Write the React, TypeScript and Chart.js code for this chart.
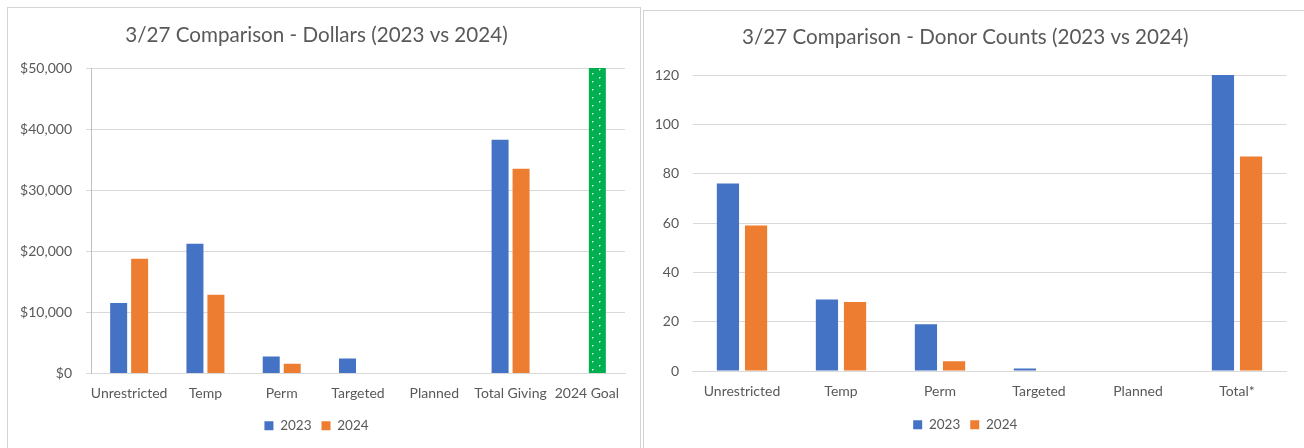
import React, { useEffect, useRef } from "react";
import { Chart, registerables } from "chart.js";

Chart.register(...registerables);

// ---- data ----
const dollarCategories = ["Unrestricted", "Temp", "Perm", "Targeted", "Planned", "Total Giving", "2024 Goal"];
const dollars2023 = [11550, 21250, 2800, 2450, 0, 38250, 0];
const dollars2024 = [18800, 12900, 1600, 0, 0, 33500, 50000];
const dollarAxisMax = 50000;
const dollarAxisStep = 10000;

const donorCategories = ["Unrestricted", "Temp", "Perm", "Targeted", "Planned", "Total*"];
const donors2023 = [76, 29, 19, 1, 0, 120];
const donors2024 = [59, 28, 4, 0, 0, 87];
const donorAxisMax = 120;
const donorAxisStep = 20;

const seriesLabels = ["2023", "2024"];

// ---- styling ----
const BLUE = "#4472C4";
const ORANGE = "#ED7D31";
const GREEN = "#00B050";
const GRID = "#d9d9d9";
const TEXT = "#595959";
const FONT = "Lato, 'Noto Sans', sans-serif";

// dotted fill used for the goal bar
function goalPattern(): CanvasPattern | string {
  const c = document.createElement("canvas");
  c.width = 14;
  c.height = 8;
  const g = c.getContext("2d");
  if (!g) return GREEN;
  g.fillStyle = GREEN;
  g.fillRect(0, 0, 14, 8);
  g.fillStyle = "#ffffff";
  g.fillRect(10, 1, 1, 1);
  g.fillRect(3, 5, 1, 1);
  g.fillStyle = "rgba(255,255,255,0.5)";
  g.fillRect(11, 1, 1, 1);
  g.fillRect(4, 5, 1, 1);
  g.fillRect(10, 2, 1, 1);
  g.fillRect(3, 6, 1, 1);
  return g.createPattern(c, "repeat") || GREEN;
}

type PanelProps = {
  title: string;
  categories: string[];
  a: number[];
  b: number[];
  max: number;
  step: number;
  money: boolean;
  width: number;
  height: number;
  yWidth: number;
  yPad: number;
  tickMarks: boolean;
  axisLine: boolean;
  padRight: number;
  padBottom: number;
  titleTop: number;
  titleBottom: number;
  xHeight: number;
  xPad: number;
  catPct: number;
  barPct: number;
  goalIndex: number;
};

function BarPanel(p: PanelProps) {
  const ref = useRef<HTMLCanvasElement | null>(null);

  useEffect(() => {
    if (!ref.current) return;
    const pattern = goalPattern();
    const bColors = p.b.map((_, i) => (i === p.goalIndex ? pattern : ORANGE));
    const legendColors = [BLUE, ORANGE];

    const chart = new Chart(ref.current, {
      type: "bar",
      data: {
        labels: p.categories,
        datasets: [
          {
            label: seriesLabels[0],
            data: p.a,
            backgroundColor: BLUE,
            borderWidth: 0,
            categoryPercentage: p.catPct,
            barPercentage: p.barPct,
          },
          {
            label: seriesLabels[1],
            data: p.b,
            backgroundColor: bColors as any,
            borderWidth: 0,
            categoryPercentage: p.catPct,
            barPercentage: p.barPct,
          },
        ],
      },
      options: {
        responsive: false,
        animation: false,
        layout: { padding: { top: 0, left: 0, right: p.padRight, bottom: p.padBottom } },
        plugins: {
          tooltip: { enabled: false },
          title: {
            display: true,
            text: p.title,
            color: TEXT,
            font: { family: FONT, size: 20.6, weight: "normal" },
            padding: { top: p.titleTop, bottom: p.titleBottom },
          },
          legend: {
            position: "bottom",
            labels: {
              color: TEXT,
              font: { family: FONT, size: 13.5 },
              boxWidth: 9,
              boxHeight: 9,
              padding: 10,
              generateLabels: (ch: any) =>
                ch.data.datasets.map((ds: any, i: number) => ({
                  text: ds.label,
                  fillStyle: legendColors[i],
                  strokeStyle: legendColors[i],
                  lineWidth: 0,
                  hidden: false,
                  datasetIndex: i,
                  fontColor: TEXT,
                })),
            },
          },
        },
        scales: {
          x: {
            grid: { display: false },
            border: { display: true, color: GRID, width: 1 },
            ticks: {
              color: TEXT,
              font: { family: FONT, size: 14 },
              padding: p.xPad,
              maxRotation: 0,
              autoSkip: false,
            },
            afterFit: (s: any) => {
              s.height = p.xHeight;
            },
          },
          y: {
            min: 0,
            max: p.max,
            grid: {
              color: GRID,
              lineWidth: 1,
              drawTicks: p.tickMarks,
              tickLength: 5,
              tickColor: GRID,
            },
            border: { display: p.axisLine, color: "#bfbfbf", width: 1 },
            ticks: {
              stepSize: p.step,
              color: TEXT,
              font: { family: FONT, size: 14 },
              padding: p.yPad,
              callback: (v: any) => (p.money ? "$" + Number(v).toLocaleString("en-US") : String(v)),
            },
            afterFit: (s: any) => {
              s.width = p.yWidth;
            },
          },
        },
      },
    });
    return () => chart.destroy();
  }, []);

  return <canvas ref={ref} width={p.width} height={p.height} style={{ display: "block" }} />;
}

export default function App() {
  return (
    <div
      style={{
        position: "fixed",
        left: 0,
        top: 0,
        width: 1304,
        height: 448,
        overflow: "hidden",
        background: "#ffffff",
      }}
    >
      <div
        style={{
          position: "absolute",
          left: 7,
          top: 7,
          width: 634,
          height: 470,
          boxSizing: "border-box",
          border: "1px solid #d4d4d4",
          background: "#fff",
        }}
      >
        <BarPanel
          title="3/27 Comparison - Dollars (2023 vs 2024)"
          categories={dollarCategories}
          a={dollars2023}
          b={dollars2024}
          max={dollarAxisMax}
          step={dollarAxisStep}
          money={true}
          width={632}
          height={440}
          yWidth={83}
          yPad={14}
          tickMarks={true}
          axisLine={true}
          padRight={15}
          padBottom={5.5}
          titleTop={15.1}
          titleBottom={20.2}
          xHeight={35.5}
          xPad={4}
          catPct={0.55}
          barPct={0.81}
          goalIndex={6}
        />
      </div>
      <div
        style={{
          position: "absolute",
          left: 643,
          top: 10,
          width: 680,
          height: 470,
          boxSizing: "border-box",
          border: "1px solid #d4d4d4",
          background: "#fff",
        }}
      >
        <BarPanel
          title="3/27 Comparison - Donor Counts (2023 vs 2024)"
          categories={donorCategories}
          a={donors2023}
          b={donors2024}
          max={donorAxisMax}
          step={donorAxisStep}
          money={false}
          width={656}
          height={437}
          yWidth={48.5}
          yPad={13.5}
          tickMarks={false}
          axisLine={false}
          padRight={13.5}
          padBottom={6.5}
          titleTop={13.6}
          titleBottom={25.7}
          xHeight={37}
          xPad={4.5}
          catPct={0.568}
          barPct={0.79}
          goalIndex={-1}
        />
      </div>
    </div>
  );
}
